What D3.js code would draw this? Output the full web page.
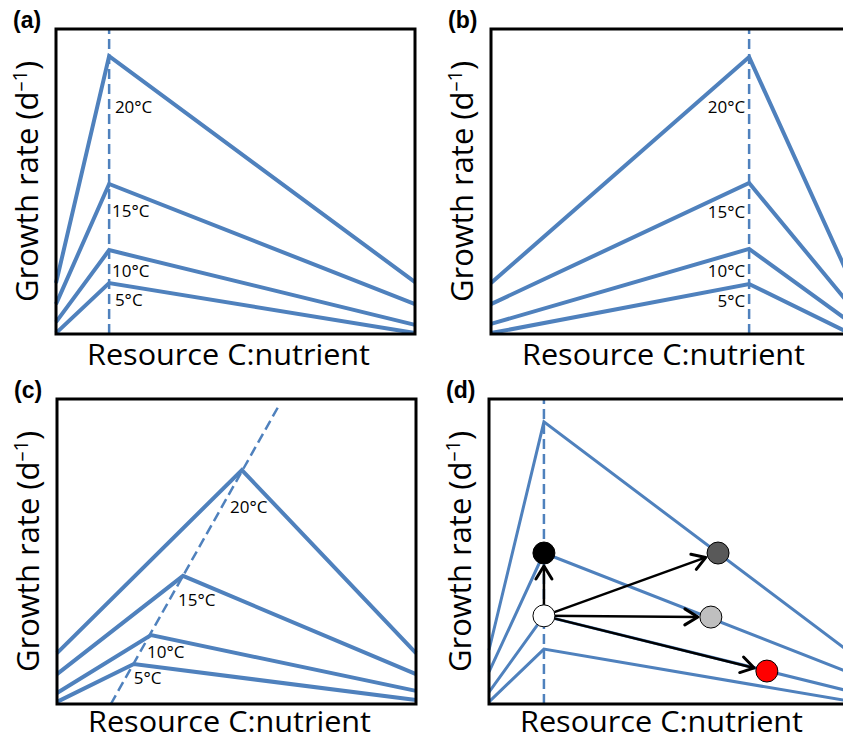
<html>
<head>
<script src="https://d3js.org/d3.v7.min.js"></script>
<style>
body { margin: 0; background: #fff; }
</style>
</head>
<body>
<script>
var width = 843;
var height = 739;
var pw = 359, ph = 305;
var blue = "#4f81bd";

// curves: value at left edge, at peak, at right edge (x and y on 0-100 scale)
var temps = ["20°C", "15°C", "10°C", "5°C"];

var aPeakX = [14.8, 14.8, 14.8, 14.8];
var aStart = [16.7, 9.8, 3.9, 0.3];
var aPeak = [91.1, 49.2, 27.5, 16.7];
var aEnd = [17.0, 9.8, 3.0, 0.3];
var aLabelX = [16.4, 15.6, 15.6, 16.4];
var aLabelY = [74.4, 40.3, 20.7, 11.1];
var aGuide = [[14.8, 0], [14.8, 100]];

var bPeakX = [71.9, 71.9, 71.9, 71.9];
var bStart = [16.7, 9.8, 3.3, 0.3];
var bPeak = [90.8, 49.5, 27.9, 16.4];
var bEnd = [18.0, 9.5, 3.9, 0.2];
var bLabelX = [70.8, 70.8, 70.8, 70.8];
var bLabelY = [74.4, 40.0, 20.7, 10.8];
var bGuide = [[71.9, 0], [71.9, 100]];

var cPeakX = [51.5, 35.1, 26.2, 21.4];
var cStart = [16.7, 9.8, 3.6, 0.7];
var cPeak = [76.7, 42.0, 22.6, 13.1];
var cEnd = [16.7, 9.8, 4.3, 1.3];
var cLabelX = [48.2, 33.7, 25.1, 21.4];
var cLabelY = [64.6, 34.1, 17.0, 8.5];
var cGuide = [[15.0, 0], [61.6, 97.4]];

var dPeakX = [15.3, 15.3, 15.3, 15.3];
var dStart = [17.7, 10.5, 3.9, 0.7];
var dPeak = [92.5, 49.5, 28.9, 18.0];
var dEnd = [17.4, 10.5, 4.3, 1.0];
var dGuide = [[15.3, 0], [15.3, 100]];

// points in panel (d)
var dotX = [15.3, 63.8, 15.3, 61.8, 77.4];
var dotY = [49.5, 49.5, 28.9, 28.5, 10.8];
var dotFill = ["#000000", "#595959", "#ffffff", "#bfbfbf", "#ff0000"];
// arrows from the white point (index 2) to the others
var arrowFrom = [2, 2, 2, 2];
var arrowTo = [0, 1, 3, 4];

var svg = d3.select("body").append("svg")
    .attr("width", width)
    .attr("height", height)
    .style("font-family", "'Open Sans', sans-serif");

var x = d3.scaleLinear().domain([0, 100]).range([0, pw]);
var y = d3.scaleLinear().domain([0, 100]).range([ph, 0]);
var line = d3.line().x(function(d) { return x(d[0]); }).y(function(d) { return y(d[1]); });

function curves(peakX, start, peak, end) {
  return temps.map(function(t, i) {
    return [[0, start[i]], [peakX[i], peak[i]], [100, end[i]]];
  });
}

function panel(left, top, tag, data, guide, lw, labels) {
  var g = svg.append("g").attr("transform", "translate(" + left + "," + top + ")");

  g.selectAll(".curve")
    .data(data)
    .enter().append("path")
      .attr("class", "curve")
      .attr("d", line)
      .attr("fill", "none")
      .attr("stroke", blue)
      .attr("stroke-width", lw)
      .attr("stroke-linejoin", "miter");

  g.append("path")
    .attr("d", line(guide))
    .attr("fill", "none")
    .attr("stroke", blue)
    .attr("stroke-width", 2.5)
    .attr("stroke-dasharray", "10,5");

  if (labels) {
    g.selectAll(".tlab")
      .data(temps)
      .enter().append("text")
        .attr("class", "tlab")
        .attr("x", function(d, i) { return x(labels.x[i]); })
        .attr("y", function(d, i) { return y(labels.y[i]); })
        .attr("dy", "0.35em")
        .attr("text-anchor", labels.anchor)
        .attr("font-size", 17)
        .attr("fill", "#000")
        .text(function(d) { return d; });
  }

  g.append("rect")
    .attr("width", pw)
    .attr("height", ph)
    .attr("fill", "none")
    .attr("stroke", "black")
    .attr("stroke-width", 3);

  svg.append("text")
    .attr("x", left - 43)
    .attr("y", top - 1)
    .attr("font-family", "'Liberation Sans', Arial, sans-serif")
    .attr("font-weight", "bold")
    .attr("font-size", 23)
    .text("(" + tag + ")");

  // keep the lower-row titles just inside the page
  svg.append("text")
    .attr("x", left + pw / 2 - 7)
    .attr("y", Math.min(top + ph + 31, height - 7))
    .attr("text-anchor", "middle")
    .attr("font-size", 29)
    .attr("textLength", 283)
    .attr("lengthAdjust", "spacingAndGlyphs")
    .text("Resource C:nutrient");

  var yt = svg.append("text")
    .attr("transform", "translate(" + (left - 18) + "," + (top + ph / 2) + ") rotate(-90)")
    .attr("text-anchor", "middle")
    .attr("font-size", 31);
  yt.append("tspan").text("Growth rate (d");
  yt.append("tspan").attr("dy", -11).attr("font-size", 20).text("–1");
  yt.append("tspan").attr("dy", 11).text(")");

  return g;
}

panel(56, 29, "a", curves(aPeakX, aStart, aPeak, aEnd), aGuide, 4,
  {x: aLabelX, y: aLabelY, anchor: "start"});
panel(491, 29, "b", curves(bPeakX, bStart, bPeak, bEnd), bGuide, 4,
  {x: bLabelX, y: bLabelY, anchor: "end"});
panel(57, 399, "c", curves(cPeakX, cStart, cPeak, cEnd), cGuide, 4,
  {x: cLabelX, y: cLabelY, anchor: "start"});
var gd = panel(489, 399, "d", curves(dPeakX, dStart, dPeak, dEnd), dGuide, 3, null);

// arrows
var r = 11;
arrowFrom.forEach(function(f, i) {
  var t = arrowTo[i];
  var x0 = x(dotX[f]), y0 = y(dotY[f]);
  var x1 = x(dotX[t]), y1 = y(dotY[t]);
  var a = Math.atan2(y1 - y0, x1 - x0);
  var tx = x1 - Math.cos(a) * (r + 2), ty = y1 - Math.sin(a) * (r + 2);
  var back = 13, half = 8;
  var bx = tx - Math.cos(a) * back, by = ty - Math.sin(a) * back;
  var px = -Math.sin(a) * half, py = Math.cos(a) * half;
  gd.append("path")
    .attr("d", "M" + x0 + "," + y0 + "L" + tx + "," + ty)
    .attr("stroke", "black")
    .attr("stroke-width", 2.5);
  gd.append("path")
    .attr("d", "M" + (bx + px) + "," + (by + py) + "L" + tx + "," + ty + "L" + (bx - px) + "," + (by - py))
    .attr("fill", "none")
    .attr("stroke", "black")
    .attr("stroke-width", 3)
    .attr("stroke-linecap", "round")
    .attr("stroke-linejoin", "round");
});

gd.selectAll(".dot")
  .data(dotFill)
  .enter().append("circle")
    .attr("class", "dot")
    .attr("cx", function(d, i) { return x(dotX[i]); })
    .attr("cy", function(d, i) { return y(dotY[i]); })
    .attr("r", r)
    .attr("fill", function(d) { return d; })
    .attr("stroke", "black")
    .attr("stroke-width", 1);
</script>
</body>
</html>
